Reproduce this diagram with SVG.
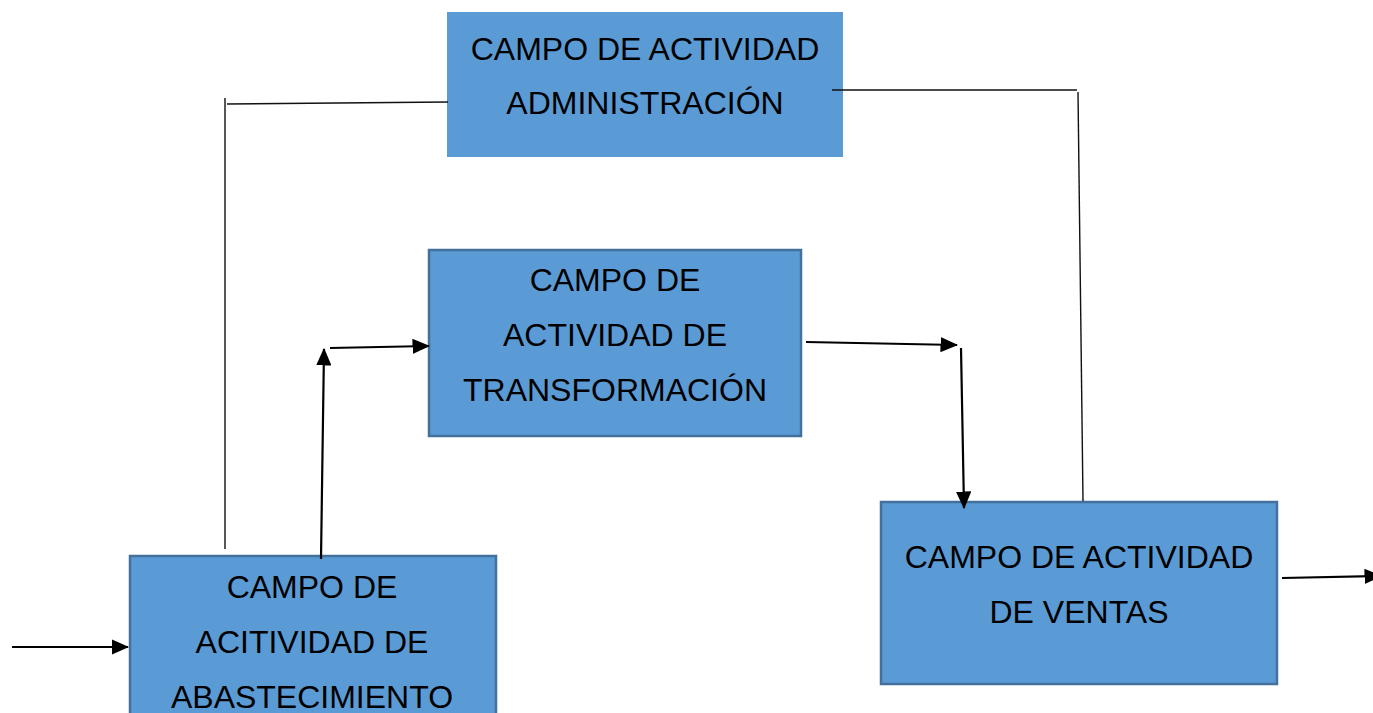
<svg xmlns="http://www.w3.org/2000/svg" width="1373" height="713" viewBox="0 0 1373 713">
<style>
.box{fill:#5b9bd5;stroke:#41719c;stroke-width:2.5}
.t{font-family:"Liberation Sans",Arial,sans-serif;font-size:32px;fill:#000;text-anchor:middle}
.thin{stroke:#111;stroke-width:1.4;fill:none}
.arr{stroke:#000;stroke-width:2.2;fill:none;marker-end:url(#ah)}
</style>
<defs>
<marker id="ah" markerWidth="8" markerHeight="7" refX="7.5" refY="3.5" orient="auto" markerUnits="strokeWidth">
<path d="M0,0 L8,3.5 L0,7 Z" fill="#000"/>
</marker>
</defs>
<rect width="1373" height="713" fill="#fff"/>
<g id="admin">
<rect x="447" y="12" width="396" height="145" fill="#5b9bd5"/>
<text class="t" x="645" y="60">CAMPO DE ACTIVIDAD</text>
<text class="t" x="645" y="114">ADMINISTRACIÓN</text>
</g>
<g id="transform">
<rect class="box" x="429" y="250" width="372" height="186"/>
<text class="t" x="615" y="291">CAMPO DE</text>
<text class="t" x="615" y="346">ACTIVIDAD DE</text>
<text class="t" x="615" y="401">TRANSFORMACIÓN</text>
</g>
<g id="abast">
<rect class="box" x="130" y="556" width="366" height="170"/>
<text class="t" x="312" y="598">CAMPO DE</text>
<text class="t" x="312" y="653">ACITIVIDAD DE</text>
<text class="t" x="312" y="708">ABASTECIMIENTO</text>
</g>
<g id="ventas">
<rect class="box" x="881" y="502" width="396" height="182"/>
<text class="t" x="1079" y="568">CAMPO DE ACTIVIDAD</text>
<text class="t" x="1079" y="623">DE VENTAS</text>
</g>
<g id="connectors">
<polyline class="thin" points="225,549 225,98"/>
<line class="thin" x1="227" y1="104" x2="448" y2="102"/>
<line class="thin" x1="832" y1="90" x2="1077" y2="90"/>
<line class="thin" x1="1078" y1="92" x2="1083" y2="501"/>
<line class="arr" x1="321" y1="559" x2="324" y2="349"/>
<line class="arr" x1="330" y1="348" x2="429" y2="346"/>
<line class="arr" x1="806" y1="342" x2="957" y2="345"/>
<line class="arr" x1="961" y1="348" x2="964" y2="508"/>
<line class="arr" x1="12" y1="647" x2="128" y2="647"/>
<line class="arr" x1="1282" y1="578" x2="1381" y2="576"/>
</g>
</svg>
